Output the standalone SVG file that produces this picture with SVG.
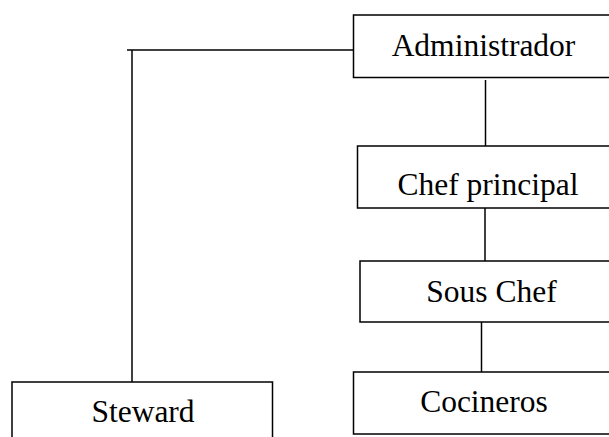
<svg xmlns="http://www.w3.org/2000/svg" width="609" height="437" viewBox="0 0 609 437">
<style>
.box{fill:#fff;stroke:#000;stroke-width:1.5}
.lbl{font-family:"Liberation Serif","Times New Roman",serif;font-size:31.5px;fill:#000;text-anchor:middle}
.con{fill:none;stroke:#000;stroke-width:1.5}
</style>
<rect width="609" height="437" fill="#fff"/>
<g id="connectors">
<polyline class="con" points="127,50 353.5,50"/>
<polyline class="con" points="132,50 132,382"/>
<line class="con" x1="485.5" y1="80" x2="485.5" y2="146"/>
<line class="con" x1="485" y1="208" x2="485" y2="261"/>
<line class="con" x1="481.5" y1="322" x2="481.5" y2="372"/>
</g>
<g id="administrador">
<rect class="box" x="353.5" y="15" width="270" height="62.5"/>
<text class="lbl" x="483.5" y="55.5">Administrador</text>
</g>
<g id="chef-principal">
<rect class="box" x="357.5" y="146" width="270" height="62"/>
<text class="lbl" x="488" y="195">Chef principal</text>
</g>
<g id="sous-chef">
<rect class="box" x="360" y="261" width="270" height="61"/>
<text class="lbl" x="491.5" y="301.5">Sous Chef</text>
</g>
<g id="cocineros">
<rect class="box" x="353.5" y="372" width="270" height="62"/>
<text class="lbl" x="484" y="412">Cocineros</text>
</g>
<g id="steward">
<rect class="box" x="12" y="382" width="260.5" height="70"/>
<text class="lbl" x="143" y="422">Steward</text>
</g>
</svg>
